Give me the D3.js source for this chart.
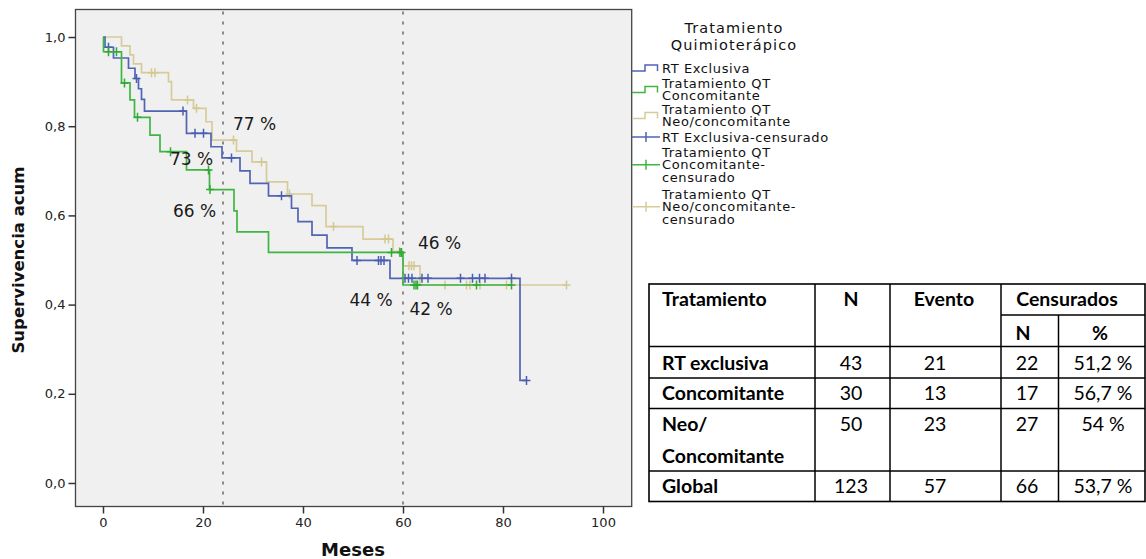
<!DOCTYPE html>
<html>
<head>
<meta charset="utf-8">
<script src="https://cdn.jsdelivr.net/npm/d3@7"></script>
<style>
  body { margin: 0; background: #ffffff; }
  svg { display: block; }
</style>
</head>
<body>
<svg id="chart" width="1146" height="559"></svg>
<script>
// ---------- DATA ----------
// Kaplan-Meier steps: [meses, supervivencia tras el evento]
const rtEvents = [[0.4,0.977],[2.1,0.953],[5.1,0.930],[6.4,0.907],[7.1,0.884],[7.7,0.860],[8.3,0.834],
  [16.7,0.784],[21.6,0.754],[23.8,0.729],[27.4,0.700],[29.4,0.672],[33.1,0.644],[37.7,0.616],
  [39.0,0.586],[41.8,0.556],[44.8,0.527],[49.8,0.499],[57.4,0.459],[83.4,0.230]];
const rtCensored = [1.1,6.7,16.0,18.4,20.1,25.7,35.7,50.8,55.1,55.6,56.2,60.4,61.1,61.8,63.8,65.0,
  71.5,73.9,75.3,76.4,81.7,84.7];
const rtEnd = 84.7;

const ccEvents = [[0.1,0.967],[3.7,0.897],[5.4,0.859],[6.3,0.820],[9.4,0.780],[11.4,0.743],
  [16.7,0.702],[21.3,0.658],[26.2,0.610],[26.8,0.563],[33.1,0.517],[60.0,0.444]];
const ccCensored = [1.1,2.7,4.3,6.9,13.5,21.1,21.4,57.7,59.4,59.7,62.2,62.6,62.9,74.7,81.7];
const ccEnd = 81.7;

const neoEvents = [[3.7,0.980],[5.4,0.960],[6.1,0.940],[7.7,0.920],[13.1,0.900],[13.7,0.859],
  [18.1,0.840],[20.6,0.810],[21.8,0.769],[26.7,0.744],[29.8,0.720],[32.7,0.675],[36.9,0.648],
  [41.8,0.622],[44.6,0.575],[52.0,0.547],[58.0,0.519],[60.0,0.487],[63.4,0.444]];
const neoCensored = [9.7,10.4,16.9,18.7,26.1,31.7,37.3,46.1,56.4,57.1,59.3,61.2,61.7,62.2,68.4,
  72.7,73.4,75.4,80.7,92.7];
const neoEnd = 92.7;

const xTicks = [0,20,40,60,80,100];
const yTicks = [0,0.2,0.4,0.6,0.8,1.0];
const refLines = [24,60];

// labels: [text, meses, supervivencia]  (anchored at left/baseline)
const pctLabels = [["77 %",26,0.791],["73 %",13.4,0.713],["66 %",14,0.596],
                   ["46 %",63,0.524],["44 %",49.3,0.397],["42 %",61.3,0.377]];

const legendTitle = ["Tratamiento","Quimioterápico"];
const legendItems = [
  {lines:["RT Exclusiva"], key:"rt", type:"step"},
  {lines:["Tratamiento QT","Concomitante"], key:"cc", type:"step"},
  {lines:["Tratamiento QT","Neo/concomitante"], key:"neo", type:"step"},
  {lines:["RT Exclusiva-censurado"], key:"rt", type:"cens"},
  {lines:["Tratamiento QT","Concomitante-","censurado"], key:"cc", type:"cens"},
  {lines:["Tratamiento QT","Neo/concomitante-","censurado"], key:"neo", type:"cens"}
];

const tableHeader = ["Tratamiento","N","Evento","Censurados"];
const tableSubHeader = ["N","%"];
const tableRows = [
  {name:["RT exclusiva"], n:"43", ev:"21", cn:"22", pct:"51,2 %"},
  {name:["Concomitante"], n:"30", ev:"13", cn:"17", pct:"56,7 %"},
  {name:["Neo/","Concomitante"], n:"50", ev:"23", cn:"27", pct:"54 %"},
  {name:["Global"], n:"123", ev:"57", cn:"66", pct:"53,7 %"}
];

// ---------- DRAW ----------
const colors = {rt:"#5064b4", cc:"#3fb542", neo:"#d6cc99"};
const censColors = {rt:"#4a5db0", cc:"#2faa35", neo:"#d2c891"};
const svg = d3.select("#chart");
const frame = {l:75.5, r:631.7, t:9.5, b:506.5};

const x = d3.scaleLinear().domain([-5.5,105.74]).range([frame.l, frame.r]);
const y = d3.scaleLinear().domain([-0.0527,1.0617]).range([frame.b, frame.t]);

svg.append("rect").attr("x",frame.l).attr("y",frame.t)
  .attr("width",frame.r-frame.l).attr("height",frame.b-frame.t).attr("fill","#f0f0f0");

// reference dotted lines
svg.selectAll("line.ref").data(refLines).enter().append("line")
  .attr("x1",d=>x(d)).attr("x2",d=>x(d)).attr("y1",frame.t+2).attr("y2",frame.b)
  .attr("stroke","#8a8a8a").attr("stroke-width",2).attr("stroke-dasharray","3,7");

const series = [
  {key:"neo", ev:neoEvents, cens:neoCensored, end:neoEnd},
  {key:"rt", ev:rtEvents, cens:rtCensored, end:rtEnd},
  {key:"cc", ev:ccEvents, cens:ccCensored, end:ccEnd}
];
function survAt(ev, t){ let s=1; for(const e of ev){ if(e[0]<=t) s=e[1]; } return s; }
const line = d3.line().x(d=>x(d[0])).y(d=>y(d[1])).curve(d3.curveStepAfter);

series.forEach(sr=>{
  const pts = [[0,1], ...sr.ev, [sr.end, sr.ev[sr.ev.length-1][1]]];
  svg.append("path").datum(pts).attr("d",line).attr("fill","none")
    .attr("stroke",colors[sr.key]).attr("stroke-width",1.7).attr("stroke-linejoin","miter");
  const g = svg.append("g");
  sr.cens.forEach(t=>{
    const cx = x(t), cy = y(survAt(sr.ev,t));
    g.append("path").attr("d",`M${cx-4},${cy}H${cx+4}M${cx},${cy-4.5}V${cy+4.5}`)
      .attr("stroke",censColors[sr.key]).attr("stroke-width",1.5).attr("fill","none");
  });
});

// frame
svg.append("rect").attr("x",frame.l).attr("y",frame.t)
  .attr("width",frame.r-frame.l).attr("height",frame.b-frame.t)
  .attr("fill","none").attr("stroke","#444").attr("stroke-width",1.3);

// axes
const fmt = d => d3.format(".1f")(d).replace(".",",");
const yAxis = svg.append("g").attr("transform",`translate(${frame.l},0)`)
  .call(d3.axisLeft(y).tickValues(yTicks).tickFormat(fmt).tickSize(7).tickPadding(3));
const xAxis = svg.append("g").attr("transform",`translate(0,${frame.b})`)
  .call(d3.axisBottom(x).tickValues(xTicks).tickFormat(d3.format("d")).tickSize(7).tickPadding(4));
[yAxis,xAxis].forEach(a=>{
  a.select(".domain").remove();
  a.selectAll(".tick line").attr("stroke","#333").attr("stroke-width",1.5);
  a.selectAll(".tick text").attr("fill","#222").style("font-family","DejaVu Sans").style("font-size","13px");
});

svg.append("text").attr("transform","translate(24,260) rotate(-90)")
  .attr("text-anchor","middle").style("font-family","DejaVu Sans").style("font-weight","bold")
  .style("font-size","16.5px").attr("fill","#111").text("Supervivencia acum");
svg.append("text").attr("x",353).attr("y",556).attr("text-anchor","middle")
  .style("font-family","DejaVu Sans").style("font-weight","bold").style("font-size","18px")
  .attr("fill","#111").text("Meses");

// percent labels
svg.selectAll("text.pct").data(pctLabels).enter().append("text")
  .attr("x",d=>x(d[1])).attr("y",d=>y(d[2]))
  .style("font-family","DejaVu Sans").style("font-size","17px").attr("fill","#1a1a1a")
  .text(d=>d[0]);

// legend
svg.append("g").selectAll("text").data(legendTitle).enter().append("text")
  .attr("x",734).attr("y",(d,i)=>33+i*16.5).attr("text-anchor","middle")
  .style("font-family","DejaVu Sans").style("font-size","14.5px").style("letter-spacing","1.1px")
  .attr("fill","#111").text(d=>d);

const itemTop = [68, 83, 109, 137, 152, 194]; // center of first text line per item
const lineH = 12.8;
legendItems.forEach((it,i)=>{
  const n = it.lines.length;
  const ly = itemTop[i];
  const center = ly + (n-1)*lineH/2;
  const g = svg.append("g");
  it.lines.forEach((t,j)=>{
    g.append("text").attr("x",662).attr("y",ly + j*lineH + 4.5)
      .style("font-family","DejaVu Sans").style("font-size","13px").style("letter-spacing","0.6px")
      .attr("fill","#111").text(t);
  });
  if(it.type==="step"){
    g.append("path").attr("d",`M632,${center+3}H645V${center-3}H657.5V${center+3}`)
      .attr("fill","none").attr("stroke",colors[it.key]).attr("stroke-width",1.5);
  } else {
    g.append("path").attr("d",`M632,${center}H660M646,${center-5}V${center+5}`)
      .attr("fill","none").attr("stroke",colors[it.key]).attr("stroke-width",1.5);
  }
});

// table
const T = {l:649, r:1145, t:284, b:501.5};
const colX = [T.l, 815, 890, 1001, 1058.5, T.r];
const rowY = [T.t, 346.5, 378, 408.5, 471, T.b];
const tg = svg.append("g");
const tl = (x1,y1,x2,y2)=>tg.append("line").attr("x1",x1).attr("y1",y1).attr("x2",x2).attr("y2",y2)
  .attr("stroke","#000").attr("stroke-width",1.5);
tg.append("rect").attr("x",T.l).attr("y",T.t).attr("width",T.r-T.l).attr("height",T.b-T.t)
  .attr("fill","#fff").attr("stroke","#000").attr("stroke-width",1.6);
rowY.slice(1,-1).forEach(yy=>tl(T.l,yy,T.r,yy));
tl(colX[3],315,T.r,315);
[colX[1],colX[2],colX[3]].forEach(xx=>tl(xx,T.t,xx,T.b));
tl(colX[4],315,colX[4],T.b);

const tf = (sel,bold)=>sel.style("font-family","Lato").style("font-size","19.5px")
  .style("font-weight",bold?"bold":"normal").attr("fill","#000");
tf(tg.append("text").attr("x",662).attr("y",306).text(tableHeader[0]),true);
tf(tg.append("text").attr("x",851).attr("y",306).attr("text-anchor","middle").text(tableHeader[1]),true);
tf(tg.append("text").attr("x",944).attr("y",306).attr("text-anchor","middle").text(tableHeader[2]),true);
tf(tg.append("text").attr("x",1067).attr("y",306).attr("text-anchor","middle").text(tableHeader[3]),true);
tf(tg.append("text").attr("x",1023).attr("y",340).attr("text-anchor","middle").text(tableSubHeader[0]),true);
tf(tg.append("text").attr("x",1100).attr("y",340).attr("text-anchor","middle").text(tableSubHeader[1]),true);

const rowBase = [370, 400, 431, 493];
tableRows.forEach((r,i)=>{
  const b = rowBase[i];
  r.name.forEach((nm,j)=>tf(tg.append("text").attr("x",662).attr("y",b+j*32).text(nm),true));
  tf(tg.append("text").attr("x",851).attr("y",b).attr("text-anchor","middle").text(r.n),false);
  tf(tg.append("text").attr("x",935).attr("y",b).attr("text-anchor","middle").text(r.ev),false);
  tf(tg.append("text").attr("x",1027).attr("y",b).attr("text-anchor","middle").text(r.cn),false);
  tf(tg.append("text").attr("x",1103).attr("y",b).attr("text-anchor","middle").text(r.pct),false);
});
</script>
</body>
</html>
